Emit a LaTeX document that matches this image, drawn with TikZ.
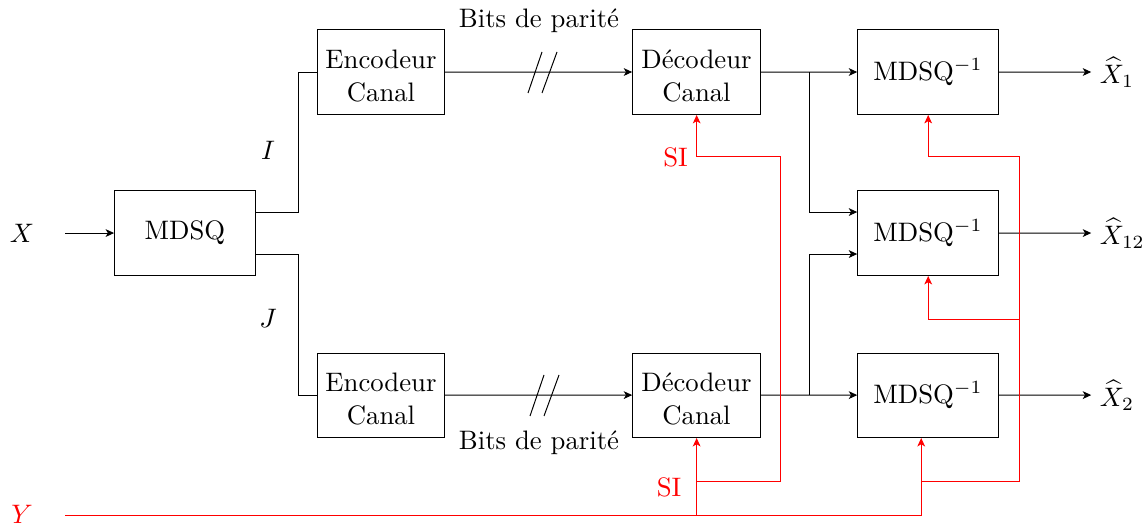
\documentclass[tikz,border=0pt]{standalone}
\usetikzlibrary{arrows.meta,calc}
\newcommand{\toppad}{\rule{0pt}{9.8pt}}
\tikzset{
  box/.style={draw, line width=0.7pt, minimum height=1.105cm, align=center, inner sep=1pt,
    font=\fontsize{10}{12.4}\selectfont},
  conn/.style={line width=0.7pt},
  tip/.style={-{Stealth[length=6pt,width=5.5pt,inset=1.6pt]}},
  arr/.style={conn, tip},
  si/.style={line width=0.7pt, red},
  siarr/.style={si, tip},
  lbl/.style={inner sep=0.5pt}
}
\begin{document}
\begin{tikzpicture}[scale=1.9, x=0.013158cm, y=-0.013158cm, every node/.style={transform shape}]
\useasboundingbox (0,0) rectangle (1144,526);
% boxes
\node[box, minimum width=1.842cm] (mdsq) at (185,233) {MDSQ};
\node[box, minimum width=1.658cm] (enc1) at (381,72) {\toppad Encodeur\\Canal};
\node[box, minimum width=1.658cm] (enc2) at (381,395) {\toppad Encodeur\\Canal};
\node[box, minimum width=1.671cm] (dec1) at (696.5,72) {\toppad Décodeur\\Canal};
\node[box, minimum width=1.671cm] (dec2) at (696.5,395) {\toppad Décodeur\\Canal};
\node[box, minimum width=1.842cm] (inv1) at (928,72) {MDSQ$^{-1}$};
\node[box, minimum width=1.842cm] (inv2) at (928,233) {MDSQ$^{-1}$};
\node[box, minimum width=1.842cm] (inv3) at (928,395) {MDSQ$^{-1}$};
% labels
\node[lbl] (xl) at (22,233) {$X$};
\node[lbl, red] (yl) at (22,514) {$Y$};
\node[lbl] (il) at (268,150) {$I$};
\node[lbl] (jl) at (268,318) {$J$};
\node[lbl] (b1) at (539,21) {Bits de parité};
\node[lbl] (b2) at (539,443) {Bits de parité};
\node[lbl, red] (si1) at (675.5,157) {SI};
\node[lbl, red] (si2) at (669,487) {SI};
\node[lbl, anchor=west] (x1) at (1098,72) {$\widehat{X}_1$};
\node[lbl, anchor=west] (x12) at (1098,233) {$\widehat{X}_{12}$};
\node[lbl, anchor=west] (x2) at (1098,395) {$\widehat{X}_2$};
% black connectors
\coordinate (xin) at (65,233);
\draw[arr] (xin) -- (mdsq.west);
\draw[conn] ($(mdsq.east)+(0,-21)$) -- ++(42,0) |- (enc1.west);
\draw[conn] ($(mdsq.east)+(0,21)$) -- ++(42,0) |- (enc2.west);
\draw[arr] (enc1) -- (dec1);
\draw[arr] (enc2) -- (dec2);
\draw[conn] (528,93) -- (542,52) (542,93) -- (557,52);
\draw[conn] (530,416) -- (544,375) (544,416) -- (559,375);
\draw[arr] (dec1) -- (inv1);
\draw[arr] (dec2) -- (inv3);
\draw[arr] ($(dec1.east)+(48,0)$) |- ($(inv2.west)+(0,-21)$);
\draw[arr] ($(dec2.east)+(48,0)$) |- ($(inv2.west)+(0,21)$);
\draw[arr, shorten >=5pt] (inv1) -- (x1);
\draw[arr, shorten >=5pt] (inv2) -- (x12);
\draw[arr, shorten >=5pt] (inv3) -- (x2);
% red side information
\coordinate (yin) at (65,515);
\draw[siarr] (yin) -| ($(inv3.south)+(-7,0)$);
\draw[siarr] (dec2.south |- yin) -- (dec2.south);
\draw[siarr] ($(dec2.south)+(0,43)$) -- ++(84,0) |- ($(dec1.south)+(0,42)$) -- (dec1.south);
\draw[siarr] ($(inv3.south)+(-7,43)$) -- ++(98,0) |- ($(inv1.south)+(0,42)$) -- (inv1.south);
\draw[siarr] ($(inv2.south)+(91,43)$) -- ++(-91,0) -- (inv2.south);
\end{tikzpicture}
\end{document}
